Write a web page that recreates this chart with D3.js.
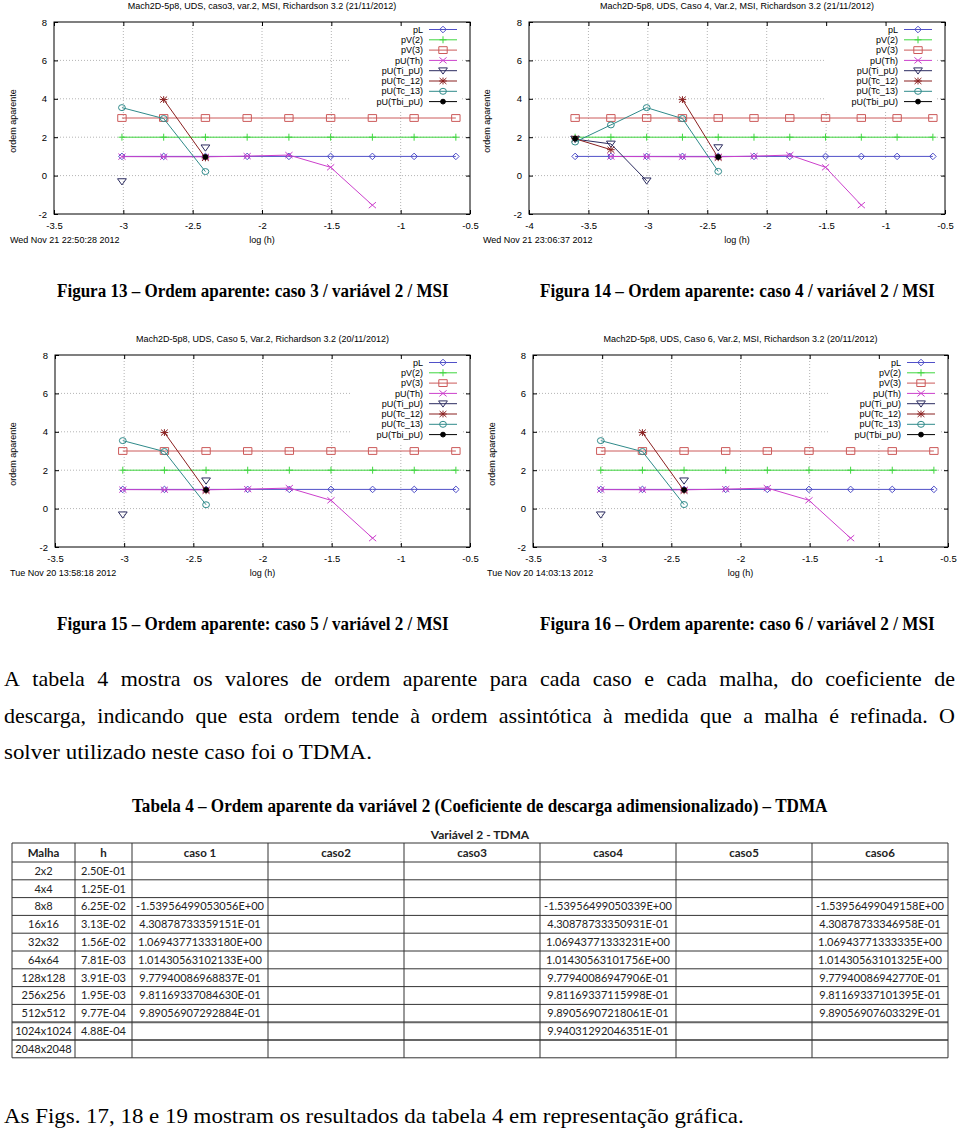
<!DOCTYPE html>
<html><head><meta charset="utf-8">
<script src="https://cdn.jsdelivr.net/npm/d3@7"></script>
<style>body{margin:0;background:#fff;} svg{display:block;}</style>
</head><body>
<svg id="page" width="960" height="1135"></svg>
<script>
// ---------------- data ----------------
const logH = [-3.612,-3.311,-3.010,-2.709,-2.408,-2.107,-1.806,-1.505,-1.204,-0.903,-0.602];
const seriesNames = ["pL","pV(2)","pV(3)","pU(Th)","pU(Ti_pU)","pU(Tc_12)","pU(Tc_13)","pU(Tbi_pU)"];
const xTicksA = [-3.5,-3,-2.5,-2,-1.5,-1,-0.5];
const xTicksB = [-4,-3.5,-3,-2.5,-2,-1.5,-1,-0.5];
const yTicks = [-2,0,2,4,6,8];

// caso 3
const c3_pL    = [null,null,1,1,1,1,1,1,1,1,1];
const c3_pV2   = [null,null,2,2,2,2,2,2,2,2,2];
const c3_pV3   = [null,null,3,3,3,3,3,3,3,3,3];
const c3_pUTh  = [null,null,0.989,0.981,0.978,1.014,1.069,0.431,-1.540,null,null];
const c3_pUTi  = [null,null,-0.31,null,1.45,null,null,null,null,null,null];
const c3_pUTc12= [null,null,null,3.96,0.92,null,null,null,null,null,null];
const c3_pUTc13= [null,null,3.54,2.97,0.21,null,null,null,null,null,null];
const c3_pUTbi = [null,null,null,null,0.97,null,null,null,null,null,null];
// caso 4
const c4_pL    = [1,1,1,1,1,1,1,1,1,1,1];
const c4_pV2   = [2,2,2,2,2,2,2,2,2,2,2];
const c4_pV3   = [3,3,3,3,3,3,3,3,3,3,3];
const c4_pUTh  = [null,0.994,0.989,0.981,0.978,1.014,1.069,0.431,-1.540,null,null];
const c4_pUTi  = [1.90,1.65,-0.27,null,1.46,null,null,null,null,null,null];
const c4_pUTc12= [1.92,1.35,null,3.96,0.93,null,null,null,null,null,null];
const c4_pUTc13= [1.75,2.64,3.54,2.97,0.22,null,null,null,null,null,null];
const c4_pUTbi = [1.93,null,null,null,0.97,null,null,null,null,null,null];
// caso 5
const c5_pL    = [null,null,1,1,1,1,1,1,1,1,1];
const c5_pV2   = [null,null,2,2,2,2,2,2,2,2,2];
const c5_pV3   = [null,null,3,3,3,3,3,3,3,3,3];
const c5_pUTh  = [null,null,0.989,0.981,0.978,1.014,1.069,0.431,-1.540,null,null];
const c5_pUTi  = [null,null,-0.32,null,1.45,null,null,null,null,null,null];
const c5_pUTc12= [null,null,null,3.96,0.93,null,null,null,null,null,null];
const c5_pUTc13= [null,null,3.54,2.97,0.20,null,null,null,null,null,null];
const c5_pUTbi = [null,null,null,null,0.97,null,null,null,null,null,null];
// caso 6
const c6_pL    = [null,null,1,1,1,1,1,1,1,1,1];
const c6_pV2   = [null,null,2,2,2,2,2,2,2,2,2];
const c6_pV3   = [null,null,3,3,3,3,3,3,3,3,3];
const c6_pUTh  = [null,null,0.989,0.981,0.978,1.014,1.069,0.431,-1.540,null,null];
const c6_pUTi  = [null,null,-0.32,null,1.45,null,null,null,null,null,null];
const c6_pUTc12= [null,null,null,3.96,0.93,null,null,null,null,null,null];
const c6_pUTc13= [null,null,3.54,2.97,0.21,null,null,null,null,null,null];
const c6_pUTbi = [null,null,null,null,0.97,null,null,null,null,null,null];

const chartTitles = [
  "Mach2D-5p8, UDS, caso3, var.2, MSI, Richardson 3.2 (21/11/2012)",
  "Mach2D-5p8, UDS, Caso 4, Var.2, MSI, Richardson 3.2 (21/11/2012)",
  "Mach2D-5p8, UDS, Caso 5, Var.2, Richardson 3.2 (20/11/2012)",
  "Mach2D-5p8, UDS, Caso 6, Var.2, MSI, Richardson 3.2 (20/11/2012)"
];
const chartDates = ["Wed Nov 21 22:50:28 2012","Wed Nov 21 23:06:37 2012","Tue Nov 20 13:58:18 2012","Tue Nov 20 14:03:13 2012"];
const captions = [
  "Figura 13 – Ordem aparente: caso 3 / variável 2 / MSI",
  "Figura 14 – Ordem aparente: caso 4 / variável 2 / MSI",
  "Figura 15 – Ordem aparente: caso 5 / variável 2 / MSI",
  "Figura 16 – Ordem aparente: caso 6 / variável 2 / MSI"
];
const paragraphLines = [
  "A tabela 4 mostra os valores de ordem aparente para cada caso e cada malha, do coeficiente de",
  "descarga, indicando que esta ordem tende à ordem assintótica à medida que a malha é refinada. O",
  "solver utilizado neste caso foi o TDMA."
];
const tableTitle = "Tabela 4 – Ordem aparente da variável 2 (Coeficiente de descarga adimensionalizado) – TDMA";
const tableGroupHeader = "Variável 2 - TDMA";
const finalLine = "As Figs. 17, 18 e 19 mostram os resultados da tabela 4 em representação gráfica.";

const tableHeaders = ["Malha","h","caso 1","caso2","caso3","caso4","caso5","caso6"];
const malha = ["2x2","4x4","8x8","16x16","32x32","64x64","128x128","256x256","512x512","1024x1024","2048x2048"];
const hVals = ["2.50E-01","1.25E-01","6.25E-02","3.13E-02","1.56E-02","7.81E-03","3.91E-03","1.95E-03","9.77E-04","4.88E-04",""];
const caso1 = ["","","-1.53956499053056E+00","4.30878733359151E-01","1.06943771333180E+00","1.01430563102133E+00","9.77940086968837E-01","9.81169337084630E-01","9.89056907292884E-01","",""];
const caso2 = ["","","","","","","","","","",""];
const caso3 = ["","","","","","","","","","",""];
const caso4 = ["","","-1.53956499050339E+00","4.30878733350931E-01","1.06943771333231E+00","1.01430563101756E+00","9.77940086947906E-01","9.81169337115998E-01","9.89056907218061E-01","9.94031292046351E-01",""];
const caso5 = ["","","","","","","","","","",""];
const caso6 = ["","","-1.53956499049158E+00","4.30878733346958E-01","1.06943771333335E+00","1.01430563101325E+00","9.77940086942770E-01","9.81169337101395E-01","9.89056907603329E-01","",""];

// ---------------- styles ----------------
const seriesStyle = [
  {color:"#5050c8", marker:"diamond"},
  {color:"#3fd63f", marker:"plus"},
  {color:"#cc5a5a", marker:"square"},
  {color:"#cc40cc", marker:"cross"},
  {color:"#2c2c60", marker:"tri"},
  {color:"#8a2020", marker:"star"},
  {color:"#2f8a8a", marker:"circle"},
  {color:"#000000", marker:"dot"}
];
const markerPath = {
  diamond:"M0,-3.3L3.3,0L0,3.3L-3.3,0Z",
  plus:"M-3.5,0H3.5M0,-3.5V3.5",
  square:"M-4.2,-3.4H4.2V3.4H-4.2Z",
  cross:"M-3.6,-3L3.6,3M-3.6,3L3.6,-3",
  tri:"M-4.4,-2.8H4.4L0,3.4Z",
  star:"M-3.4,-3L3.4,3M-3.4,3L3.4,-3M-3.8,0H3.8M0,-3.4V3.4",
  circle:"M3.4,0A3.4,3 0 1 1 -3.4,0A3.4,3 0 1 1 3.4,0Z",
  dot:"M2.4,0A2.4,2.4 0 1 1 -2.4,0A2.4,2.4 0 1 1 2.4,0Z"
};

const svg = d3.select("#page");
svg.append("rect").attr("width",960).attr("height",1135).attr("fill","#fff");

const chartCfg = [
  {left:54,  right:470, top:22,  bottom:214, xt:xTicksA, dateX:10,  ylx:13,
   data:[c3_pL,c3_pV2,c3_pV3,c3_pUTh,c3_pUTi,c3_pUTc12,c3_pUTc13,c3_pUTbi]},
  {left:529, right:945, top:22,  bottom:214, xt:xTicksB, dateX:483, ylx:487,
   data:[c4_pL,c4_pV2,c4_pV3,c4_pUTh,c4_pUTi,c4_pUTc12,c4_pUTc13,c4_pUTbi]},
  {left:55,  right:470, top:355, bottom:547, xt:xTicksA, dateX:10,  ylx:13,
   data:[c5_pL,c5_pV2,c5_pV3,c5_pUTh,c5_pUTi,c5_pUTc12,c5_pUTc13,c5_pUTbi]},
  {left:533, right:948, top:355, bottom:547, xt:xTicksA, dateX:487, ylx:492,
   data:[c6_pL,c6_pV2,c6_pV3,c6_pUTh,c6_pUTi,c6_pUTc12,c6_pUTc13,c6_pUTbi]}
];

const sansFont = "'Liberation Sans', Arial, sans-serif";

chartCfg.forEach((c, ci) => {
  const g = svg.append("g");
  const x = d3.scaleLinear().domain([c.xt[0], c.xt[c.xt.length-1]]).range([c.left, c.right]);
  const y = d3.scaleLinear().domain([yTicks[0], yTicks[yTicks.length-1]]).range([c.bottom, c.top]);
  g.selectAll(".gx").data(c.xt.slice(1,-1)).join("line")
    .attr("x1",d=>x(d)).attr("x2",d=>x(d)).attr("y1",c.top).attr("y2",c.bottom)
    .attr("stroke","#b4b4b4").attr("stroke-dasharray","1,2").attr("stroke-width",1);
  g.selectAll(".gy").data(yTicks.slice(1,-1)).join("line")
    .attr("y1",d=>y(d)).attr("y2",d=>y(d)).attr("x1",c.left).attr("x2",c.right)
    .attr("stroke","#b4b4b4").attr("stroke-dasharray","1,2").attr("stroke-width",1);
  g.append("rect").attr("x",c.right-120).attr("y",c.top+2).attr("width",112).attr("height",86).attr("fill","#fff");

  c.data.forEach((vals, si) => {
    const st = seriesStyle[si];
    const pts = logH.map((lx,i)=>[lx, vals[i]]);
    const line = d3.line().defined(d=>d[1]!=null).x(d=>x(d[0])).y(d=>y(d[1]));
    g.append("path").attr("d",line(pts)).attr("fill","none").attr("stroke",st.color).attr("stroke-width",1);
    g.selectAll(null).data(pts.filter(d=>d[1]!=null)).join("path")
      .attr("transform",d=>`translate(${x(d[0])},${y(d[1])})`)
      .attr("d",markerPath[st.marker])
      .attr("fill",st.marker==="dot"?st.color:"none")
      .attr("stroke",st.color).attr("stroke-width",1);
  });

  const lg = g.append("g").attr("font-family",sansFont).attr("font-size",9);
  seriesNames.forEach((nm, si) => {
    const st = seriesStyle[si];
    const yy = c.top + 7.5 + si*10.3;
    lg.append("text").attr("x",c.right-47).attr("y",yy).attr("dy","0.35em").attr("text-anchor","end").attr("fill","#000").text(nm);
    lg.append("line").attr("x1",c.right-41).attr("x2",c.right-13).attr("y1",yy).attr("y2",yy).attr("stroke",st.color);
    lg.append("path").attr("transform",`translate(${c.right-27},${yy})`).attr("d",markerPath[st.marker])
      .attr("fill",st.marker==="dot"?st.color:"none").attr("stroke",st.color);
  });

  const fmt = d=>String(d);
  const ax = g.append("g").attr("transform",`translate(0,${c.bottom})`)
    .call(d3.axisBottom(x).tickValues(c.xt).tickSize(-4).tickPadding(8).tickFormat(fmt));
  const axT = g.append("g").attr("transform",`translate(0,${c.top})`)
    .call(d3.axisTop(x).tickValues(c.xt).tickSize(-4).tickFormat(""));
  const ay = g.append("g").attr("transform",`translate(${c.left},0)`)
    .call(d3.axisLeft(y).tickValues(yTicks).tickSize(-4).tickPadding(7).tickFormat(fmt));
  const ayR = g.append("g").attr("transform",`translate(${c.right},0)`)
    .call(d3.axisRight(y).tickValues(yTicks).tickSize(-4).tickFormat(""));
  [ax,axT,ay,ayR].forEach(a=>{
    a.select(".domain").remove();
    a.attr("font-family",sansFont).attr("font-size",9.5);
    a.selectAll("line").attr("stroke","#000");
    a.selectAll("text").attr("fill","#000");
  });
  g.append("rect").attr("x",c.left).attr("y",c.top).attr("width",c.right-c.left).attr("height",c.bottom-c.top)
    .attr("fill","none").attr("stroke","#000").attr("stroke-width",1);

  const cx = (c.left+c.right)/2;
  g.append("text").attr("x",cx).attr("y",c.top-16).attr("dy","0.35em").attr("text-anchor","middle")
    .attr("font-family",sansFont).attr("font-size",9).text(chartTitles[ci]);
  g.append("text").attr("x",cx).attr("y",c.bottom+26).attr("dy","0.35em").attr("text-anchor","middle")
    .attr("font-family",sansFont).attr("font-size",9).text("log (h)");
  g.append("text").attr("x",c.dateX).attr("y",c.bottom+26).attr("dy","0.35em")
    .attr("font-family",sansFont).attr("font-size",9).text(chartDates[ci]);
  g.append("text").attr("transform",`translate(${c.ylx},${(c.top+c.bottom)/2+3}) rotate(-90)`)
    .attr("dy","0.35em").attr("text-anchor","middle")
    .attr("font-family",sansFont).attr("font-size",9).text("ordem aparente");
});

// ---------------- captions & text ----------------
const serif = "'Liberation Serif', 'Times New Roman', serif";
// place text starting at x0 on baseline y, horizontally scaled to width w
function fitText(txt, x0, yb, w, size, weight){
  const g = svg.append("g");
  const t = g.append("text").attr("x",0).attr("y",0).attr("font-family",serif)
    .attr("font-size",size).attr("font-weight",weight||"normal").text(txt);
  const nat = t.node().getComputedTextLength();
  const sx = w / nat;
  g.attr("transform",`translate(${x0},${yb}) scale(${sx},1)`);
  return sx;
}
const capPos = [[57,297,392],[540,297,395],[57,630,392],[540,630,395]];
captions.forEach((t,i)=> fitText(t, capPos[i][0], capPos[i][1], capPos[i][2], 19, "bold"));

const pFont = 22;
function measure(txt){
  const t = svg.append("text").attr("font-family",serif).attr("font-size",pFont).text(txt);
  const w = t.node().getComputedTextLength(); t.remove(); return w;
}
const lastTarget = 368;
const k = Math.min(1, lastTarget / measure(paragraphLines[2]));
const pBase = [686, 723, 759];
[0,1].forEach(li=>{
  const words = paragraphLines[li].split(" ");
  const widths = words.map(w=>measure(w)*k);
  const total = d3.sum(widths);
  const x0 = 4, x1 = 955;
  const gap = (x1-x0-total)/(words.length-1);
  let xx = x0;
  words.forEach((w,i)=>{
    svg.append("text").attr("transform",`translate(${xx},${pBase[li]}) scale(${k},1)`)
      .attr("font-family",serif).attr("font-size",pFont).text(w);
    xx += widths[i]+gap;
  });
});
fitText(paragraphLines[2], 4, pBase[2], lastTarget, pFont);
fitText(tableTitle, 132, 812, 696, 19, "bold");
fitText(finalLine, 4, 1123, 740, pFont);

// ---------------- table ----------------
const tFont = "Lato, 'Open Sans', sans-serif";
const colX = [12,75,132,268,404,540,676,812,948];
const tTop = 843, hdrBot = 862, rowH = 17.8;
const columns = [malha,hVals,caso1,caso2,caso3,caso4,caso5,caso6];
const tg = svg.append("g");
tg.append("text").attr("x",480).attr("y",835).attr("dy","0.35em").attr("text-anchor","middle")
  .attr("font-family",tFont).attr("font-weight","bold").attr("font-size",12).attr("fill","#222").text(tableGroupHeader);
const hLines = [tTop, hdrBot].concat(d3.range(1, malha.length+1).map(i=>hdrBot+i*rowH));
hLines.forEach((yy,i)=>{
  const thick = (i===10 || i===11);
  tg.append("line").attr("x1",colX[0]).attr("x2",colX[colX.length-1]).attr("y1",yy).attr("y2",yy)
    .attr("stroke",thick?"#666":"#333").attr("stroke-width",thick?2:1);
});
colX.forEach(xx=>{
  tg.append("line").attr("x1",xx).attr("x2",xx).attr("y1",tTop).attr("y2",hdrBot+malha.length*rowH)
    .attr("stroke","#333").attr("stroke-width",1);
});
tableHeaders.forEach((h,ci)=>{
  tg.append("text").attr("x",(colX[ci]+colX[ci+1])/2).attr("y",(tTop+hdrBot)/2).attr("dy","0.35em")
    .attr("text-anchor","middle").attr("font-family",tFont).attr("font-weight","bold").attr("font-size",11.5).attr("fill","#222").text(h);
});
columns.forEach((col,ci)=>{
  col.forEach((v,ri)=>{
    if(!v) return;
    tg.append("text").attr("x",(colX[ci]+colX[ci+1])/2).attr("y",hdrBot+rowH*(ri+0.5)).attr("dy","0.35em")
      .attr("text-anchor","middle").attr("font-family",tFont).attr("font-size",11).attr("fill","#222").text(v);
  });
});
</script>
</body></html>
